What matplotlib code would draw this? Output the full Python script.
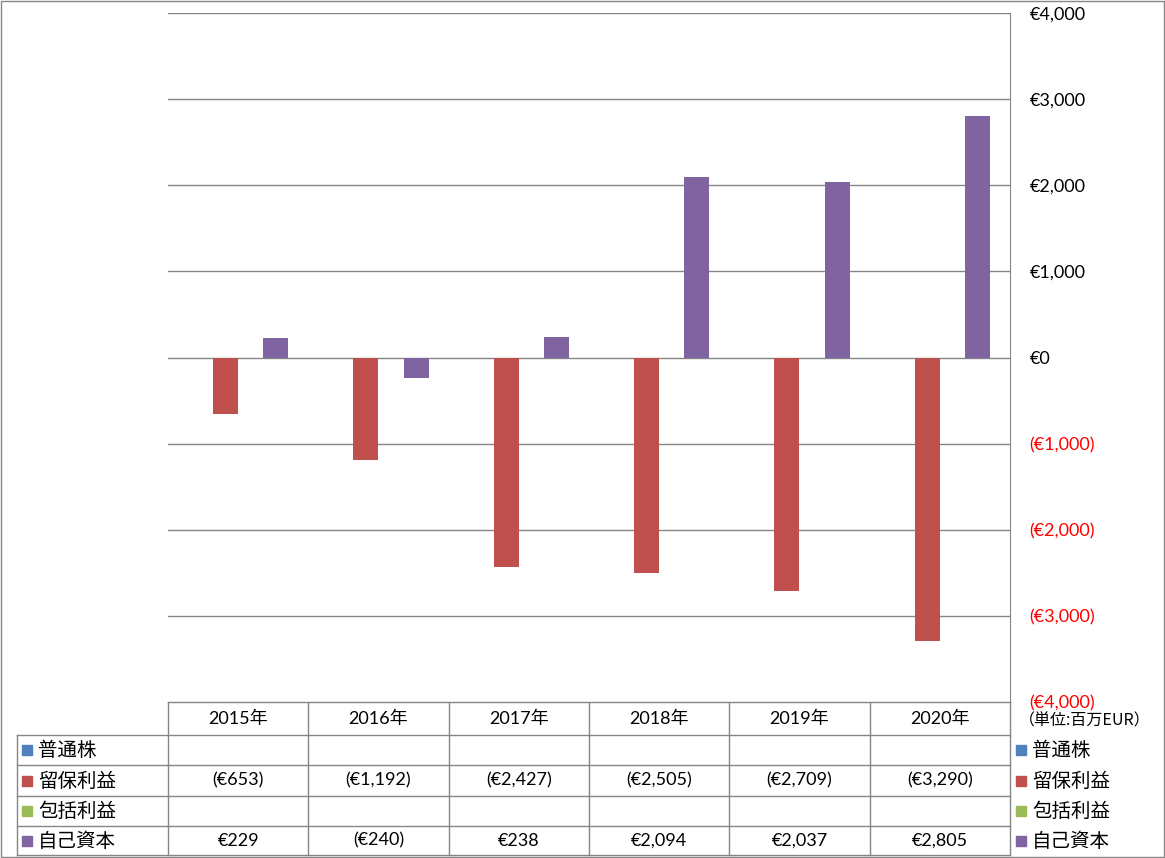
import numpy as np
import matplotlib.pyplot as plt
from matplotlib.patches import Rectangle

plt.rcParams['font.family'] = ['Lato', 'Noto Sans CJK JP', 'DejaVu Sans']

years = ['2015年', '2016年', '2017年', '2018年', '2019年', '2020年']
series_names = ['普通株', '留保利益', '包括利益', '自己資本']
series_colors = ['#4f81bd', '#c0504d', '#9bbb59', '#8064a2']
common_stock = [np.nan] * 6
retained = [-653, -1192, -2427, -2505, -2709, -3290]
comprehensive = [np.nan] * 6
equity = [229, -240, 238, 2094, 2037, 2805]
series_values = [common_stock, retained, comprehensive, equity]
yticks = [-4000, -3000, -2000, -1000, 0, 1000, 2000, 3000, 4000]


def eur(v):
    s = '€{:,.0f}'.format(abs(v))
    return '({})'.format(s) if v < 0 else s


W, H = 1165, 858
fig = plt.figure(figsize=(W / 100, H / 100), dpi=100)

# plot area in pixel coords
x0, x1, y0, y1 = 168, 1010, 13, 702
ax = fig.add_axes([x0 / W, 1 - y1 / H, (x1 - x0) / W, (y1 - y0) / H])

grid_c = '#868686'
n = len(years)
bw = 25 / 140
x = np.arange(n)
for k, (vals, col) in enumerate(zip(series_values, series_colors)):
    ax.bar(x + (k - 2) * bw, vals, width=bw, align='edge', color=col, zorder=3)

ax.set_xlim(-0.5, n - 0.5)
ax.set_ylim(-4000, 4000)
ax.set_yticks(yticks)
ax.yaxis.tick_right()
ax.set_yticklabels([eur(v) for v in yticks])
for lab, v in zip(ax.get_yticklabels(), yticks):
    lab.set_color('red' if v < 0 else 'black')
    lab.set_fontsize(13)
ax.tick_params(axis='y', length=0, pad=14)
ax.set_xticks([])
ax.grid(axis='y', color=grid_c, linewidth=1, zorder=0)
for s in ['top', 'left', 'bottom']:
    ax.spines[s].set_visible(False)
ax.spines['right'].set_color(grid_c)

# overlay for the data table and legend
ov = fig.add_axes([0, 0, 1, 1], zorder=-1)
ov.set_xlim(0, W)
ov.set_ylim(H, 0)
ov.axis('off')

# outer border
ov.add_patch(Rectangle((1, 1), W - 2, H - 2, fill=False, edgecolor=grid_c, lw=1))

col_edges = np.linspace(x0, x1, n + 1)
row_edges = [702, 735, 765, 796, 826, 855]
lbl_left = 17
lk = dict(color=grid_c, lw=1)
# horizontal lines
ov.plot([x0, x1], [row_edges[0], row_edges[0]], **lk)
for yy in row_edges[1:]:
    ov.plot([lbl_left, x1], [yy, yy], **lk)
# vertical lines
ov.plot([lbl_left, lbl_left], [row_edges[1], row_edges[-1]], **lk)
for xx in col_edges:
    ov.plot([xx, xx], [row_edges[0], row_edges[-1]], **lk)

# header
for i, yr in enumerate(years):
    cx = (col_edges[i] + col_edges[i + 1]) / 2
    ov.text(cx, (row_edges[0] + row_edges[1]) / 2, yr, ha='center', va='center', fontsize=13)

# rows
for r, (name, col, vals) in enumerate(zip(series_names, series_colors, series_values)):
    cy = (row_edges[r + 1] + row_edges[r + 2]) / 2
    ov.add_patch(Rectangle((22, cy - 5), 10, 10, color=col))
    ov.text(38, cy, name, ha='left', va='center', fontsize=14)
    for i, v in enumerate(vals):
        if np.isnan(v):
            continue
        cx = (col_edges[i] + col_edges[i + 1]) / 2
        ov.text(cx, cy, eur(v), ha='center', va='center', fontsize=13)
    # right legend
    ov.add_patch(Rectangle((1016, cy - 5), 10, 10, color=col))
    ov.text(1032, cy, name, ha='left', va='center', fontsize=14)

ov.text(1019, 721, '（単位:百万EUR）', ha='left', va='center', fontsize=11.5,
        family=['Noto Sans CJK JP', 'DejaVu Sans'])

fig.savefig('out.png', dpi=100)
